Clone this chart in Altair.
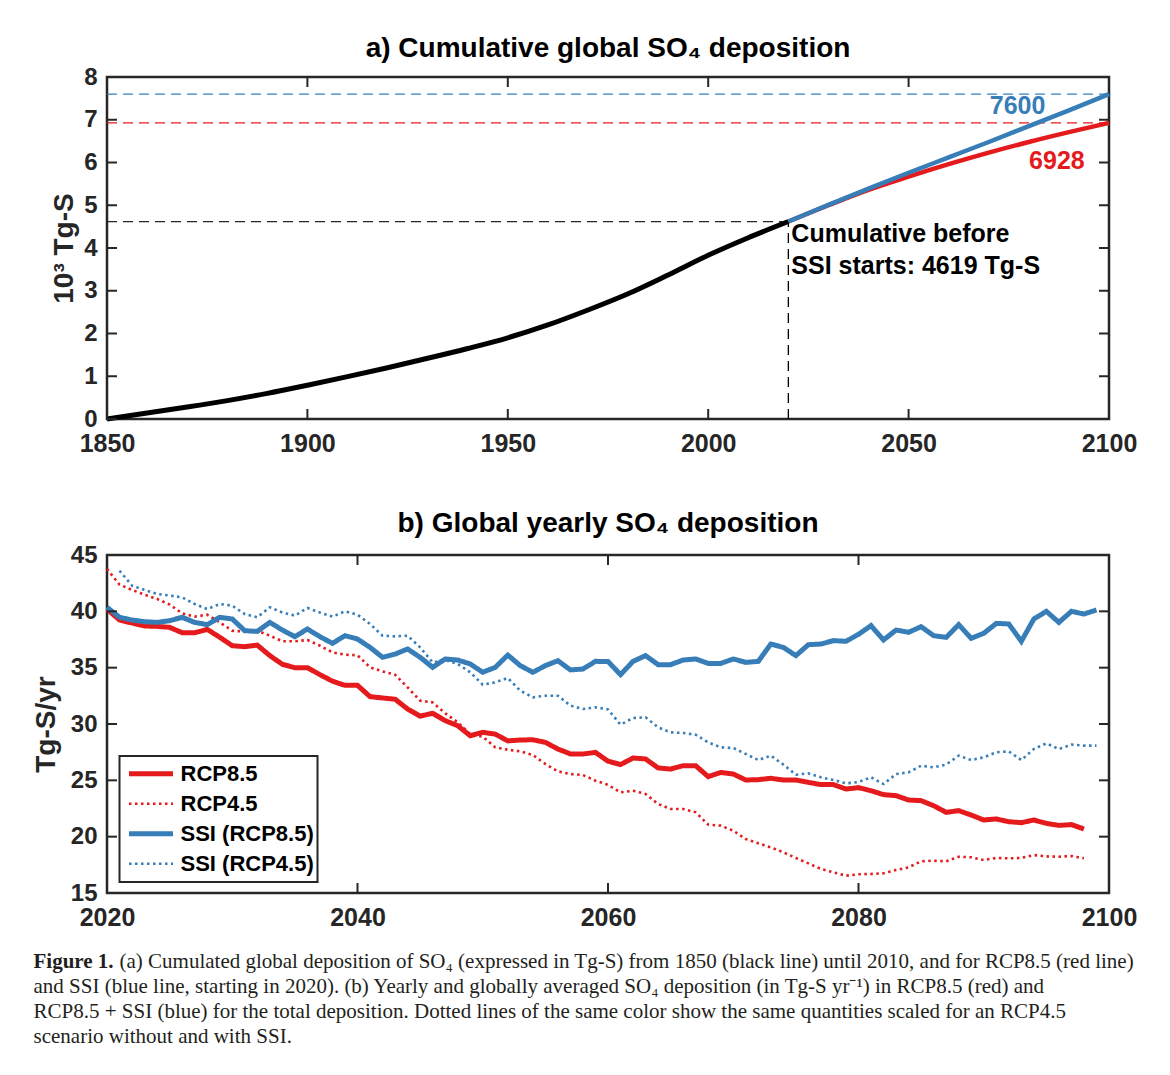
import altair as alt
import pandas as pd

FONT = "Liberation Sans"
SERIF = "Liberation Serif"
RED = "#E41A1C"
BLUE = "#377EB8"
DARK = "#262626"

# ---------------- panel a: cumulative deposition (10^3 Tg-S)
hist_years = [1850, 1860, 1870, 1880, 1890, 1900, 1910, 1920, 1930, 1940,
              1950, 1960, 1970, 1980, 1990, 2000, 2010, 2020]
hist_cum = [0.0, 0.14, 0.28, 0.43, 0.60, 0.79, 0.99, 1.20, 1.42, 1.65,
            1.90, 2.20, 2.55, 2.93, 3.37, 3.83, 4.24, 4.619]
proj_years = [2020, 2030, 2040, 2050, 2060, 2070, 2080, 2090, 2100]
rcp85_cum = [4.619, 5.00, 5.36, 5.67, 5.96, 6.23, 6.48, 6.71, 6.928]
ssi_cum = [4.619, 5.01, 5.39, 5.76, 6.12, 6.48, 6.85, 7.22, 7.60]
total_before = 4.619
total_rcp85 = 6.928
total_ssi = 7.600
ssi_start = 2020

top_xticks = [1850, 1900, 1950, 2000, 2050, 2100]
top_yticks = [0, 1, 2, 3, 4, 5, 6, 7, 8]

# ---------------- panel b: yearly deposition (Tg-S/yr)
rcp85_years = list(range(2020, 2099))
rcp85_vals = [40.2, 39.23, 38.96, 38.7, 38.67, 38.58, 38.1, 38.1, 38.4, 37.7,
              36.95, 36.86, 37.0, 36.07, 35.3, 35.0, 35.0, 34.38, 33.8, 33.43,
              33.43, 32.43, 32.31, 32.2, 31.33, 30.7, 30.95, 30.3, 29.85, 28.96,
              29.26, 29.1, 28.5, 28.58, 28.6, 28.37, 27.78, 27.34, 27.34, 27.48,
              26.7, 26.4, 26.98, 26.9, 26.1, 26.0, 26.3, 26.3, 25.33, 25.7,
              25.56, 25.03, 25.06, 25.18, 25.03, 25.03, 24.82, 24.62, 24.62, 24.23,
              24.35, 24.08, 23.73, 23.64, 23.25, 23.2, 22.75, 22.16, 22.31, 21.92,
              21.48, 21.57, 21.33, 21.24, 21.48, 21.18, 21.0, 21.07, 20.68]
rcp45_years = list(range(2020, 2099))
rcp45_vals = [43.76, 42.37, 41.9, 41.48, 41.1, 40.6, 39.82, 39.53, 39.7, 39.02,
              38.28, 38.2, 38.28, 37.84, 37.34, 37.34, 37.46, 36.95, 36.36, 36.15,
              36.1, 35.03, 34.67, 34.38, 33.25, 32.07, 31.92, 30.95, 30.15, 29.1,
              28.88, 27.93, 27.72, 27.57, 27.25, 26.45, 25.8, 25.56, 25.47, 24.97,
              24.6, 23.93, 24.08, 23.79, 22.9, 22.46, 22.46, 22.16, 21.07, 20.98,
              20.53, 19.79, 19.41, 19.05, 18.61, 18.11, 17.63, 17.13, 16.83, 16.54,
              16.66, 16.69, 16.75, 17.04, 17.28, 17.81, 17.87, 17.81, 18.22, 18.17,
              17.93, 18.11, 18.08, 18.11, 18.37, 18.25, 18.22, 18.28, 18.08]
ssi85_years = list(range(2020, 2100))
ssi85_vals = [40.36, 39.47, 39.23, 39.08, 39.02, 39.17, 39.47, 39.02, 38.82, 39.47,
              39.32, 38.28, 38.22, 39.02, 38.34, 37.75, 38.43, 37.75, 37.16, 37.84,
              37.54, 36.8, 35.92, 36.2, 36.66, 35.92, 35.03, 35.77, 35.68, 35.33,
              34.59, 35.03, 36.12, 35.18, 34.59, 35.18, 35.62, 34.8, 34.88, 35.56,
              35.55, 34.38, 35.56, 36.07, 35.27, 35.27, 35.68, 35.77, 35.38, 35.38,
              35.77, 35.47, 35.56, 37.1, 36.8, 36.07, 37.04, 37.1, 37.4, 37.34,
              37.96, 38.73, 37.46, 38.34, 38.14, 38.64, 37.84, 37.69, 38.82, 37.6,
              38.05, 38.93, 38.88, 37.34, 39.32, 40.0, 39.02, 40.0, 39.76, 40.12]
ssi45_years = list(range(2021, 2100))
ssi45_vals = [43.6, 42.28, 41.9, 41.54, 41.4, 41.24, 40.65, 40.2, 40.65,
              40.5, 39.76, 39.47, 40.36, 39.9, 39.62, 40.3, 39.9, 39.53, 40.0,
              39.7, 38.88, 37.84, 37.78, 37.84, 36.8, 35.47, 35.68, 35.33, 34.59,
              33.49, 33.7, 34.08, 32.96, 32.37, 32.51, 32.51, 31.63, 31.33, 31.48,
              31.3, 29.94, 30.53, 30.59, 29.7, 29.26, 29.2, 29.05, 28.37, 27.93,
              27.87, 27.34, 26.8, 27.19, 26.4, 25.5, 25.62, 25.27, 25.03, 24.73,
              24.85, 25.27, 24.67, 25.56, 25.71, 26.3, 26.15, 26.4, 27.19, 26.8,
              27.04, 27.49, 27.57, 26.8, 27.78, 28.28, 27.78, 28.17, 28.08, 28.08]
series_names = ["RCP8.5", "RCP4.5", "SSI (RCP8.5)", "SSI (RCP4.5)"]

bot_xticks = [2020, 2040, 2060, 2080, 2100]
bot_yticks = [15, 20, 25, 30, 35, 40, 45]

caption_bold = "Figure 1."
caption_lines = [
    "(a) Cumulated global deposition of SO\u2084 (expressed in Tg-S) from 1850 (black line) until 2010, and for RCP8.5 (red line)",
    "and SSI (blue line, starting in 2020). (b) Yearly and globally averaged SO\u2084 deposition (in Tg-S yr\u207b\u00b9) in RCP8.5 (red) and",
    "RCP8.5 + SSI (blue) for the total deposition. Dotted lines of the same color show the same quantities scaled for an RCP4.5",
    "scenario without and with SSI.",
]

# ---------------- helpers
TW, TH = 1002, 342
BW, BH = 1002, 338
TICK = 10
CAP_SIZE = 21


def x_enc(field, domain, ticks):
    return alt.X(f"{field}:Q", title=None,
                 scale=alt.Scale(domain=domain, nice=False, zero=False),
                 axis=alt.Axis(values=ticks, format="d", labelFlush=False, labelPadding=12.5,
                               labelFontSize=25, labelFontWeight="bold", labelColor=DARK,
                               ticks=False, tickSize=0, domain=False, grid=False))


def y_enc(field, domain, ticks, title, tpad):
    return alt.Y(f"{field}:Q", title=title,
                 scale=alt.Scale(domain=domain, nice=False, zero=False),
                 axis=alt.Axis(values=ticks, format="d", labelFlush=False, labelPadding=10,
                               labelFontSize=24, labelFontWeight="bold", labelColor=DARK,
                               ticks=False, tickSize=0, domain=False, grid=False,
                               titleFontSize=28, titleFontWeight="bold", titleColor=DARK,
                               titlePadding=tpad))


def tick_layers(xt, yt, W, H, xe, ye):
    dx = pd.DataFrame({"t": xt})
    dy = pd.DataFrame({"v": yt})
    rx = alt.Chart(dx).mark_rule(color=DARK, strokeWidth=2)
    ry = alt.Chart(dy).mark_rule(color=DARK, strokeWidth=2)
    return [
        rx.encode(x=xe("t"), y=alt.value(0), y2=alt.value(TICK)),
        rx.encode(x=xe("t"), y=alt.value(H), y2=alt.value(H - TICK)),
        ry.encode(y=ye("v"), x=alt.value(0), x2=alt.value(TICK)),
        ry.encode(y=ye("v"), x=alt.value(W), x2=alt.value(W - TICK)),
    ]


# ---------------- panel a
txe = lambda f: x_enc(f, [1850, 2100], top_xticks)
tye = lambda f: y_enc(f, [0, 8], top_yticks, "10\u00b3 Tg-S", 5)

hist_df = pd.DataFrame({"year": hist_years, "val": hist_cum})
proj_df = pd.DataFrame({"year": proj_years, "rcp": rcp85_cum, "ssi": ssi_cum})


def hline(x0, x1, yv, color):
    d = pd.DataFrame({"x0": [x0], "x1": [x1], "yv": [yv]})
    return alt.Chart(d).mark_rule(color=color, strokeWidth=1.3, strokeDash=[10, 6]).encode(
        x=txe("x0"), x2="x1:Q", y=tye("yv"))


vline = alt.Chart(pd.DataFrame({"xv": [ssi_start], "y0": [0.0], "y1": [total_before]})).mark_rule(
    color="black", strokeWidth=1.3, strokeDash=[10, 6]).encode(x=txe("xv"), y=tye("y0"), y2="y1:Q")

black_line = alt.Chart(hist_df).mark_line(color="black", strokeWidth=5, interpolate="monotone").encode(
    x=txe("year"), y=tye("val"))
red_line = alt.Chart(proj_df).mark_line(color=RED, strokeWidth=4.5, interpolate="monotone").encode(
    x=txe("year"), y=tye("rcp"))
blue_line = alt.Chart(proj_df).mark_line(color=BLUE, strokeWidth=4.5, interpolate="monotone").encode(
    x=txe("year"), y=tye("ssi"))

lab_ssi = alt.Chart(pd.DataFrame({"year": [2077.2], "val": [7.31], "t": [f"{round(total_ssi * 1000)}"]})).mark_text(
    color=BLUE, fontSize=25, fontWeight="bold").encode(x=txe("year"), y=tye("val"), text="t:N")
lab_rcp = alt.Chart(pd.DataFrame({"year": [2087.0], "val": [6.03], "t": [f"{round(total_rcp85 * 1000)}"]})).mark_text(
    color=RED, fontSize=25, fontWeight="bold").encode(x=txe("year"), y=tye("val"), text="t:N")
ann = alt.Chart(pd.DataFrame({"year": [ssi_start, ssi_start], "val": [4.33, 3.58],
                              "t": ["Cumulative before",
                                    f"SSI starts: {round(total_before * 1000)} Tg-S"]})).mark_text(
    color="black", fontSize=25, fontWeight="bold", align="left", baseline="middle", dx=3).encode(
    x=txe("year"), y=tye("val"), text="t:N")

top = alt.layer(
    hline(1850, 2100, total_ssi, BLUE),
    hline(1850, 2100, total_rcp85, RED),
    hline(1850, ssi_start, total_before, DARK),
    vline,
    black_line, red_line, blue_line,
    lab_ssi, lab_rcp, ann,
    *tick_layers(top_xticks, top_yticks, TW, TH, txe, tye),
).properties(
    width=TW, height=TH,
    title=alt.TitleParams("a) Cumulative global SO\u2084 deposition", fontSize=28, fontWeight="bold",
                          color="black", offset=2, anchor="middle"),
)

# ---------------- panel b
bxe = lambda f: x_enc(f, [2020, 2100], bot_xticks)
bye = lambda f: y_enc(f, [15, 45], bot_yticks, "Tg-S/yr", 10)

frames = []
for name, yrs, vals in [(series_names[0], rcp85_years, rcp85_vals),
                        (series_names[1], rcp45_years, rcp45_vals),
                        (series_names[2], ssi85_years, ssi85_vals),
                        (series_names[3], ssi45_years, ssi45_vals)]:
    frames.append(pd.DataFrame({"series": name, "year": yrs, "val": vals}))
yearly_df = pd.concat(frames, ignore_index=True)

leg = alt.Legend(title=None, orient="none", legendX=12.5, legendY=201, fillColor="white",
                 strokeColor=DARK, padding=3, labelFontSize=22, labelFontWeight="bold",
                 labelColor="black", labelFont=FONT, symbolType="stroke", symbolSize=1936,
                 symbolOffset=4, clipHeight=29.5, labelOffset=5, rowPadding=0, labelLimit=400)

lines_b = alt.Chart(yearly_df).mark_line().encode(
    x=bxe("year"), y=bye("val"),
    color=alt.Color("series:N", scale=alt.Scale(domain=series_names, range=[RED, RED, BLUE, BLUE]), legend=leg),
    strokeDash=alt.StrokeDash("series:N", scale=alt.Scale(domain=series_names,
                                                          range=[[1, 0], [2.5, 3.5], [1, 0], [2.5, 3.5]]),
                              legend=leg),
    strokeWidth=alt.StrokeWidth("series:N", scale=alt.Scale(type="ordinal", domain=series_names,
                                                            range=[5, 2.6, 5, 2.6]),
                                legend=leg),
)

cap_layers = []
cx0 = -73.5
cy0 = 413
cap_layers.append(alt.Chart(pd.DataFrame({"t": [caption_bold]})).mark_text(
    font=SERIF, fontSize=CAP_SIZE, fontWeight="bold", align="left", baseline="alphabetic", color="#231F20").encode(
    text="t:N", x=alt.value(cx0), y=alt.value(cy0)))
for i, line in enumerate(caption_lines):
    cap_layers.append(alt.Chart(pd.DataFrame({"t": [line]})).mark_text(
        font=SERIF, fontSize=CAP_SIZE, align="left", baseline="alphabetic", color="#231F20").encode(
        text="t:N", x=alt.value(cx0 + (86 if i == 0 else 0)), y=alt.value(cy0 + 25 * i)))

bottom = alt.layer(
    lines_b,
    *tick_layers(bot_xticks, bot_yticks, BW, BH, bxe, bye),
    *cap_layers,
).properties(
    width=BW, height=BH,
    title=alt.TitleParams("b) Global yearly SO\u2084 deposition", fontSize=28, fontWeight="bold",
                          color="black", offset=5, anchor="middle"),
)

chart = alt.vconcat(top, bottom, spacing=50).properties(
    padding={"left": 23, "top": 25, "right": 10, "bottom": 10}
).resolve_legend(
    color="independent", strokeDash="independent", strokeWidth="independent"
).configure(font=FONT).configure_view(stroke=DARK, strokeWidth=2.5).configure_legend(strokeWidth=2)

chart.save("out.html", embed_options={"renderer": "svg", "actions": False})
